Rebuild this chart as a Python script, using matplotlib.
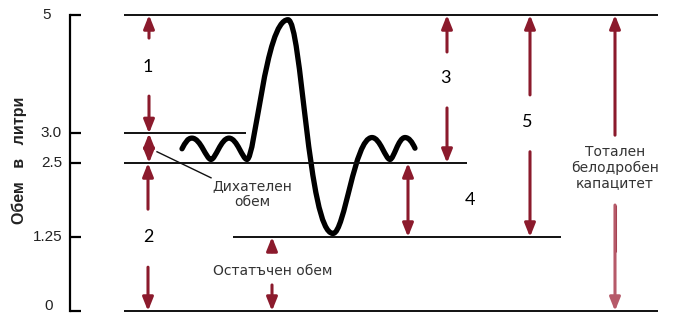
import matplotlib
matplotlib.use("Agg")
import matplotlib.pyplot as plt
from matplotlib.path import Path
from matplotlib.patches import PathPatch

# ---------------- data ----------------
tick_values = [0, 1.25, 2.5, 3.0, 5]
tick_labels = ["0", "1.25", "2.5", "3.0", "5"]
tick_label_x = [53, 62, 62, 62, 51]          # right edge of label (px)

level_values = [5, 3.0, 2.5, 1.25, 0]
level_x_start = [124, 124, 124, 233, 124]
level_x_end = [658, 246, 467, 561, 658]

# spirogram extrema (time in px, volume in litres)
curve_x = [182, 192, 211, 229, 247, 288, 333, 372, 390, 405, 415]
curve_v = [2.74, 2.92, 2.56, 2.92, 2.56, 4.92, 1.31, 2.93, 2.56, 2.93, 2.75]

# numbered volume arrows
arrow_labels = ["1", "2", "3", "4", "5"]
arrow_x = [149, 148, 447, 408, 530]
arrow_top = [5, 2.5, 5, 2.5, 5]
arrow_bottom = [3.0, 0, 2.5, 1.25, 1.25]
label_x = [148, 148, 445, 470, 527]
label_v = [4.12, 1.25, 3.94, 1.875, 3.19]
gap_top = [4.61, 1.72, 4.375, None, 3.65]
gap_bottom = [3.63, 0.74, 3.43, None, 2.69]

# named volumes
tidal_text = "Дихателен\nобем"
tidal_x, tidal_top, tidal_bottom = 149, 3.0, 2.5
residual_text = "Остатъчен обем"
residual_x, residual_top, residual_bottom = 272, 1.25, 0
tlc_text = "Тотален\nбелодробен\nкапацитет"
tlc_x, tlc_top, tlc_bottom = 615, 5, 0

axis_label = "Обем   в   литри"

# ---------------- figure ----------------
W, H = 673, 314
fig = plt.figure(figsize=(W / 100, H / 100), dpi=100)
ax = fig.add_axes([0, 0, 1, 1])
px_per_l = (311 - 15) / 5.0
ax.set_xlim(0, W)
ax.set_ylim(-(H - 311) / px_per_l, 5 + 15 / px_per_l)

for s in ["top", "right", "bottom"]:
    ax.spines[s].set_visible(False)
ax.spines["left"].set_position(("data", 70))
ax.spines["left"].set_bounds(0, 5)
ax.spines["left"].set_linewidth(1.6)
ax.set_xticks([])
ax.set_yticks(tick_values)
ax.tick_params(axis="y", direction="in", length=8, width=1.6, labelleft=False)
ax.set_facecolor("white")

for v, lab, xr in zip(tick_values, tick_labels, tick_label_x):
    if v == 0:
        ax.text(xr, 0.017, lab, ha="right", va="baseline", fontsize=11,
                family="Liberation Sans", color="#222222")
    else:
        ax.text(xr, v, lab, ha="right", va="center", fontsize=11,
                family="Liberation Sans", color="#222222")

ax.text(19, 2.55, axis_label, rotation=90, ha="center", va="center",
        fontsize=11.5, fontweight="bold", family="Liberation Sans", color="#222222")

# horizontal level lines
for v, x0, x1 in zip(level_values, level_x_start, level_x_end):
    ax.plot([x0, x1], [v, v], color="#111111", lw=1.4, solid_capstyle="butt",
            clip_on=False)

# ---------------- spirogram curve (cubic Bezier between extrema) ----------------
handles = [(0.35, 0.45), (0.45, 0.25), (0.25, 0.45), (0.45, 0.25), (0.2, 0.55),
           (0.3, 0.55), (0.3, 0.45), (0.45, 0.25), (0.25, 0.45), (0.4, 0.3)]
verts = [(curve_x[0], curve_v[0])]
codes = [Path.MOVETO]
n = len(curve_x)
for i in range(n - 1):
    x0, y0, x1, y1 = curve_x[i], curve_v[i], curve_x[i + 1], curve_v[i + 1]
    dx = x1 - x0
    a, b = handles[i]
    c1 = (x0 + a * dx, y0)
    c2 = (x1 - b * dx, y1)
    if i == 0:
        c1 = (x0 + a * dx, y0 + 0.6 * (y1 - y0))
    if i == n - 2:
        c2 = (x1 - b * dx, y1 - 0.6 * (y1 - y0))
    verts += [c1, c2, (x1, y1)]
    codes += [Path.CURVE4] * 3
ax.add_patch(PathPatch(Path(verts, codes), fill=False, edgecolor="black", lw=3.8,
                       capstyle="round", joinstyle="round", clip_on=False))

# ---------------- arrows ----------------
RED = "#8b1a2c"


def arrow(x, tail, tip, color=RED, style="-|>"):
    ax.annotate("", xy=(x, tip), xytext=(x, tail),
                arrowprops=dict(arrowstyle=style + ",head_length=0.8,head_width=0.32",
                                color=color, lw=2.2, shrinkA=0, shrinkB=0,
                                mutation_scale=10),
                annotation_clip=False)


num_font = dict(fontsize=13, family="Lato", color="black", ha="center", va="center")
for lab, x, top, bot, lx, lv, gt, gb in zip(arrow_labels, arrow_x, arrow_top,
                                            arrow_bottom, label_x, label_v,
                                            gap_top, gap_bottom):
    if gt is None:
        arrow(x, bot, top, style="<|-|>")
    else:
        arrow(x, gt, top)
        arrow(x, gb, bot)
    ax.text(lx, lv, lab, **num_font)

txt_font = dict(fontsize=10, family="DejaVu Sans", color="#333333", ha="center",
                va="center", linespacing=1.15)

# tidal volume: two heads meeting in the middle
mid = (tidal_top + tidal_bottom) / 2
arrow(tidal_x, mid - 0.02, tidal_top)
arrow(tidal_x, mid + 0.02, tidal_bottom)
ax.plot([157, 211], [2.69, 2.25], color="#111111", lw=1.0)
ax.text(252, 1.98, tidal_text, **txt_font)

# residual volume
arrow(residual_x, 1.0, residual_top)
arrow(residual_x, 0.44, residual_bottom)
ax.text(273, 0.676, residual_text, **txt_font)

# total lung capacity
arrow(tlc_x, 2.97, tlc_top)
arrow(tlc_x, 1.79, tlc_bottom, color="#b65a69")
ax.plot([tlc_x, tlc_x], [1.79, 1.0], color="#93283a", lw=2.2, solid_capstyle="butt")
ax.text(tlc_x, 2.42, tlc_text, **txt_font)

fig.savefig("out.png", dpi=100, facecolor="white")
